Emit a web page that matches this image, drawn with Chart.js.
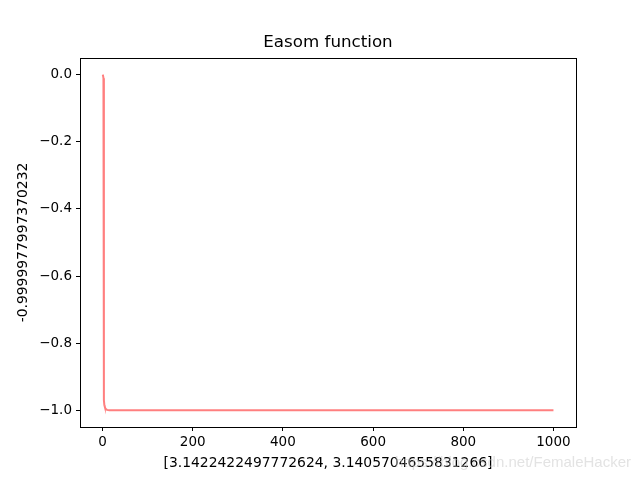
<!DOCTYPE html>
<html>
<head>
<meta charset="utf-8">
<script src="https://cdn.jsdelivr.net/npm/chart.js@4/dist/chart.umd.min.js"></script>
<style>
html,body{margin:0;padding:0;background:#fff;}
#wrap{width:640px;height:480px;}
</style>
</head>
<body>
<div id="wrap"><canvas id="c" width="640" height="480"></canvas></div>
<script>
// Data
const iterations = [0, 1, 2, 3, 4, 5, 6, 8, 10, 15, 20, 50, 100, 200, 300, 400, 500, 600, 700, 800, 900, 1000];
const bestValues = [0, -0.002, -0.01, -0.97, -0.985, -0.99, -0.994, -0.997, -0.999, -1, -1, -1, -1, -1, -1, -1, -1, -1, -1, -1, -1, -1];
const xTicks = [0, 200, 400, 600, 800, 1000];
const yTicks = [0, -0.2, -0.4, -0.6, -0.8, -1.0];
const titleText = 'Easom function';
const xLabel = '[3.1422422497772624, 3.1405704655831266]';
const yLabel = '-0.9999977997370232';
const watermark = 'https://blog.csdn.net/FemaleHacker';

const points = iterations.map((x, i) => ({x: x, y: bestValues[i]}));
const FONT = "'DejaVu Sans', sans-serif";

const decor = {
  id: 'decor',
  afterDraw(chart) {
    const ctx = chart.ctx;
    const a = chart.chartArea;
    ctx.save();
    ctx.strokeStyle = '#000';
    ctx.lineWidth = 1;
    ctx.strokeRect(Math.round(a.left) + 0.5, Math.round(a.top) + 0.5, Math.round(a.right - a.left), Math.round(a.bottom - a.top));
    ctx.fillStyle = '#000';
    ctx.textAlign = 'center';
    ctx.textBaseline = 'middle';
    ctx.font = '16.7px ' + FONT;
    ctx.fillText(titleText, (a.left + a.right) / 2, 43);
    ctx.font = '13.9px ' + FONT;
    ctx.fillText(xLabel, (a.left + a.right) / 2, 463);
    ctx.save();
    ctx.translate(23, (a.top + a.bottom) / 2);
    ctx.rotate(-Math.PI / 2);
    ctx.fillText(yLabel, 0, 0);
    ctx.restore();
    ctx.fillStyle = 'rgba(200,200,200,0.5)';
    ctx.textAlign = 'right';
    ctx.font = '15px "Liberation Sans", Arial, sans-serif';
    ctx.fillText(watermark, 631, 463);
    ctx.restore();
  }
};

new Chart(document.getElementById('c'), {
  type: 'scatter',
  data: {
    datasets: [{
      data: points,
      showLine: true,
      borderColor: 'rgba(255,0,0,0.5)',
      backgroundColor: 'rgba(255,0,0,0.5)',
      borderWidth: 2,
      pointRadius: 0,
      tension: 0
    }]
  },
  options: {
    responsive: false,
    animation: false,
    devicePixelRatio: 1,
    layout: {padding: {left: 0, right: 64, top: 58, bottom: 0}},
    plugins: {legend: {display: false}, tooltip: {enabled: false}, title: {display: false}},
    scales: {
      x: {
        type: 'linear',
        min: -50, max: 1050,
        afterFit(s) { s.height = 53; },
        afterBuildTicks(s) { s.ticks = xTicks.map(v => ({value: v})); },
        grid: {drawOnChartArea: false, drawTicks: true, tickLength: 4, color: '#000'},
        border: {display: false},
        ticks: {color: '#000', padding: 3, maxRotation: 0, font: {family: FONT, size: 13.5},
          callback: v => String(v)}
      },
      y: {
        type: 'linear',
        min: -1.05, max: 0.05,
        afterFit(s) { s.width = 80; },
        afterBuildTicks(s) { s.ticks = yTicks.map(v => ({value: v})); },
        grid: {drawOnChartArea: false, drawTicks: true, tickLength: 4, color: '#000'},
        border: {display: false},
        ticks: {color: '#000', padding: 4, font: {family: FONT, size: 13.5},
          callback: v => (v < 0 ? '\u2212' : '') + Math.abs(v).toFixed(1)}
      }
    }
  },
  plugins: [decor]
});
</script>
</body>
</html>
